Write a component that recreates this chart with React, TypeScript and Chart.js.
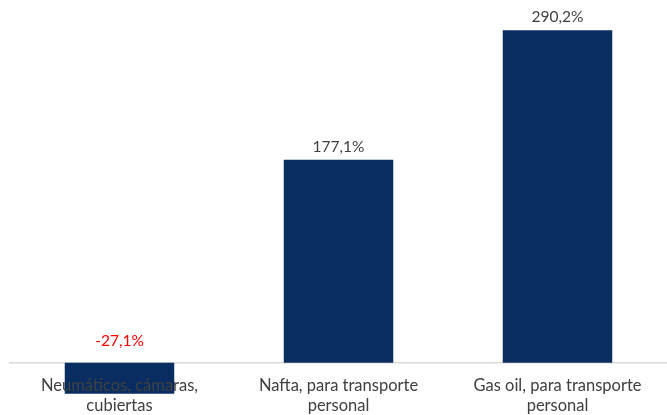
import React, { useEffect, useRef } from "react";
import { Chart, registerables } from "chart.js";

Chart.register(...registerables);

const categories: string[][] = [
  ["Neumáticos, cámaras,", "cubiertas"],
  ["Nafta, para transporte", "personal"],
  ["Gas oil, para transporte", "personal"],
];
const values: number[] = [-27.1, 177.1, 290.2];
const valueLabels: string[] = ["-27,1%", "177,1%", "290,2%"];

const FONT = "Lato, 'Open Sans', sans-serif";

const valueLabelPlugin = {
  id: "valueLabels",
  afterDatasetsDraw(chart: any) {
    const ctx = chart.ctx;
    const meta = chart.getDatasetMeta(0);
    const yZero = chart.scales.y.getPixelForValue(0);
    ctx.save();
    ctx.font = `15.5px ${FONT}`;
    ctx.textAlign = "center";
    ctx.textBaseline = "middle";
    meta.data.forEach((bar: any, i: number) => {
      const v = values[i];
      if (v < 0) {
        ctx.fillStyle = "#ff0000";
        ctx.fillText(valueLabels[i], bar.x, yZero - 22);
      } else {
        ctx.fillStyle = "#404040";
        ctx.fillText(valueLabels[i], bar.x, bar.y - 13);
      }
    });
    ctx.restore();
  },
};

export default function App() {
  const ref = useRef<HTMLCanvasElement>(null);
  useEffect(() => {
    if (!ref.current) return;
    const chart = new Chart(ref.current, {
      type: "bar",
      data: {
        labels: categories,
        datasets: [
          {
            data: values,
            backgroundColor: "#0a2d61",
            barPercentage: 0.5,
            categoryPercentage: 1,
          },
        ],
      },
      options: {
        animation: false,
        responsive: true,
        maintainAspectRatio: false,
        layout: { padding: { left: 10, right: 0, top: 19, bottom: 18 } },
        plugins: { legend: { display: false }, tooltip: { enabled: false } },
        scales: {
          x: {
            position: { y: 0 } as any,
            grid: { display: false, drawTicks: false },
            border: { display: true, color: "#d9d9d9", width: 1.5 },
            ticks: {
              z: 1,
              color: "#404040",
              font: { family: FONT, size: 16.5 },
              padding: 13,
              maxRotation: 0,
              autoSkip: false,
            },
          },
          y: {
            display: false,
            min: -30,
            max: 300,
          },
        },
      },
      plugins: [valueLabelPlugin],
    });
    return () => chart.destroy();
  }, []);
  return (
    <div style={{ position: "fixed", left: 0, top: 0, width: 667, height: 415 }}>
      <canvas ref={ref} />
    </div>
  );
}
